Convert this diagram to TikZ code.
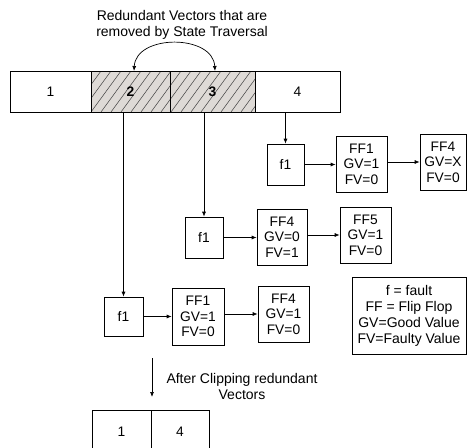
\documentclass[tikz,border=0pt]{standalone}
\usepackage{fontspec}
\setmainfont{Liberation Sans}
\usetikzlibrary{arrows.meta}
\definecolor{hatchfill}{HTML}{DEDAD6}
\begin{document}
\begin{tikzpicture}[x=1pt,y=-1pt,
  lbl/.style={font=\fontsize{14}{16}\selectfont, align=center, inner sep=0pt},
  box/.style={draw, line width=0.7pt, inner sep=0pt, align=center, font=\fontsize{13.8}{15.6}\selectfont},
  cell/.style={box, minimum height=41pt},
  conn/.style={line width=0.7pt, -{Latex[length=5pt,width=4pt]}}]
\useasboundingbox (0,0) rectangle (467,448);
% hatched background of cells 2 and 3
\fill[hatchfill] (91,71) rectangle (255,112);
\begin{scope}
  \clip (91,71) rectangle (255,112);
  \foreach \i in {0,...,20} {
    \draw[line width=0.5pt, black!75] (61+\i*10,112) -- ++(30,-41);
  }
\end{scope}
% top bar
\node[cell, minimum width=81pt] (c1) at (50.5,91.5) {1};
\node[cell, minimum width=79pt] (c2) at (130.5,91.5) {\textbf{2}};
\node[cell, minimum width=85pt] (c3) at (212.5,91.5) {\textbf{3}};
\node[cell, minimum width=85pt] (c4) at (297.5,91.5) {4};
% title
\node[lbl] (title) at (182,25) {Redundant Vectors that are\\removed by State Traversal};
\coordinate (arcL) at (134,71);
\coordinate (arcR) at (215,71);
\draw[line width=0.7pt, {Latex[length=5pt,width=4pt]}-{Latex[length=5pt,width=4pt]}] (arcL) .. controls (136,34) and (213,34) .. (arcR);
% row A
\node[box, minimum width=37pt, minimum height=41pt] (f1a) at (285.5,164.5) {f1};
\node[box, minimum width=51pt, minimum height=56pt] (ffa1) at (361.5,164) {FF1\\GV=1\\FV=0};
\node[box, minimum width=46pt, minimum height=56pt] (ffa2) at (443,162) {FF4\\GV=X\\FV=0};
% row B
\node[box, minimum width=38pt, minimum height=41pt] (f1b) at (204,237.5) {f1};
\node[box, minimum width=50pt, minimum height=56pt] (ffb1) at (282,237) {FF4\\GV=0\\FV=1};
\node[box, minimum width=51pt, minimum height=56pt] (ffb2) at (365.5,235) {FF5\\GV=1\\FV=0};
% row C
\node[box, minimum width=39pt, minimum height=39pt] (f1c) at (123.5,316.5) {f1};
\node[box, minimum width=52pt, minimum height=57pt] (ffc1) at (198,316.5) {FF1\\GV=1\\FV=0};
\node[box, minimum width=51pt, minimum height=56pt] (ffc2) at (283.5,314) {FF4\\GV=1\\FV=0};
% legend
\node[box, minimum width=114pt, minimum height=77pt, font=\fontsize{14}{16}\selectfont] (legend) at (409,315.5) {f = fault\\FF = Flip Flop\\GV=Good Value\\FV=Faulty Value};
% vertical connectors
\draw[conn] (f1c.north |- c2.south) -- (f1c.north);
\draw[conn] (f1b.north |- c3.south) -- (f1b.north);
\draw[conn] (f1a.north |- c4.south) -- (f1a.north);
% horizontal connectors
\draw[conn] (f1a.east) -- (f1a.east -| ffa1.west);
\draw[conn] (ffa1.east |- ffa2.west) -- (ffa2.west);
\draw[conn] (f1b.east) -- (f1b.east -| ffb1.west);
\draw[conn] (ffb1.east |- ffb2.west) -- (ffb2.west);
\draw[conn] (f1c.east) -- (f1c.east -| ffc1.west);
\draw[conn] (ffc1.east |- ffc2.west) -- (ffc2.west);
% clipping
\coordinate (clipS) at (152,358);
\coordinate (clipE) at (152,397);
\draw[conn] (clipS) -- (clipE);
\node[lbl] (cliptext) at (242,386) {After Clipping redundant\\Vectors};
% bottom bar
\node[cell, minimum width=59pt, minimum height=44pt] (b1) at (121.5,432) {1};
\node[cell, minimum width=58pt, minimum height=44pt] (b4) at (180,432) {4};
\end{tikzpicture}
\end{document}
